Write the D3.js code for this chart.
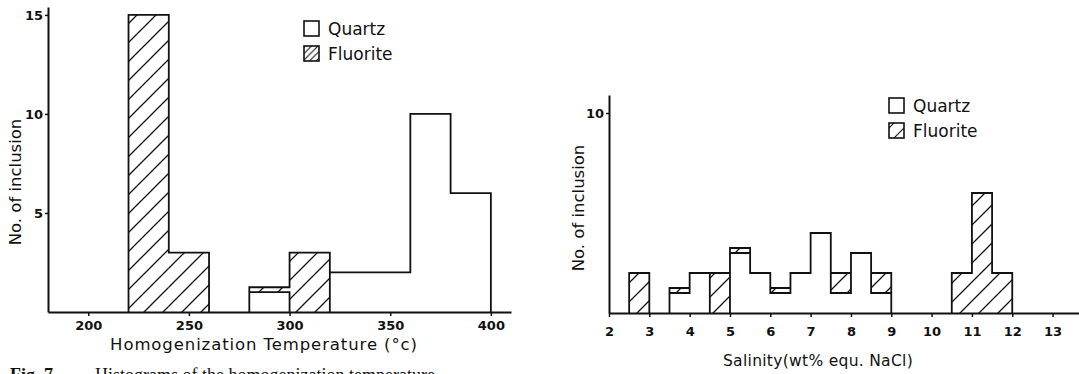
<!DOCTYPE html>
<html>
<head>
<meta charset="utf-8">
<script src="https://cdn.jsdelivr.net/npm/d3@7"></script>
<style>
  body { margin: 0; background: #fff; }
  svg { display: block; }
  .tick text { font-family: "DejaVu Sans", sans-serif; font-weight: bold; font-size: 13px; fill: #111; }
  .label { font-family: "DejaVu Sans", sans-serif; fill: #111; }
</style>
</head>
<body>
<svg id="fig" width="1079" height="374"></svg>
<script>
// homogenization temperature histogram, bins of 20 degC starting at these values
const tempBinStart = [180, 200, 220, 240, 260, 280, 300, 320, 340, 360, 380];
const tempBinWidth = 20;
const tempQuartz   = [0, 0, 0, 0, 0, 1, 0, 2, 2, 10, 6];
const tempFluorite = [0, 0, 15, 3, 0, 0.25, 3, 0, 0, 0, 0];
const tempTicks = [200, 250, 300, 350, 400];
const tempCountTicks = [5, 10, 15];

// salinity histogram, bins of 0.5 wt%
const salBinStart = [2, 2.5, 3, 3.5, 4, 4.5, 5, 5.5, 6, 6.5, 7, 7.5, 8, 8.5, 9, 9.5, 10, 10.5, 11, 11.5];
const salBinWidth = 0.5;
const salQuartz   = [0, 0, 0, 1, 2, 0, 3, 2, 1, 2, 4, 1, 3, 1, 0, 0, 0, 0, 0, 0];
const salFluorite = [0, 2, 0, 0.25, 0, 2, 0.25, 0, 0.25, 0, 0, 1, 0, 1, 0, 0, 0, 2, 6, 2];
const salTicks = [2, 3, 4, 5, 6, 7, 8, 9, 10, 11, 12, 13];
const salCountTicks = [10];

const legendItems = ["Quartz", "Fluorite"];

const svg = d3.select("#fig");
const defs = svg.append("defs");

function hatch(id, s, w) {
  defs.append("pattern")
      .attr("id", id)
      .attr("patternUnits", "userSpaceOnUse")
      .attr("width", s).attr("height", s)
    .append("path")
      .attr("d", `M${-s / 4},${s / 4} L${s / 4},${-s / 4} M0,${s} L${s},0 M${s * 3 / 4},${s * 5 / 4} L${s * 5 / 4},${s * 3 / 4}`)
      .attr("stroke", "#111")
      .attr("stroke-width", w);
}
hatch("hatch", 19, 1.3);
hatch("hatchLegL", 6.5, 1.1);
hatch("hatchLegR", 15, 1.1);

// outline of the stacked histogram: lines only where the filling changes
function outlineSegments(starts, width, q, f) {
  const n = starts.length;
  const layers = i => {
    if (i < 0 || i >= n) return [];
    const out = [];
    if (q[i] > 0) out.push({ t: "q", a: 0, b: q[i] });
    if (f[i] > 0) out.push({ t: "f", a: q[i], b: q[i] + f[i] });
    return out;
  };
  const typeAt = (i, h) => {
    const l = layers(i).find(d => d.a < h && h < d.b);
    return l ? l.t : "none";
  };
  const segs = [];
  for (let k = 0; k <= n; k++) {
    const xv = starts[0] + k * width;
    const hs = Array.from(new Set([0].concat(
      layers(k - 1).flatMap(d => [d.a, d.b]),
      layers(k).flatMap(d => [d.a, d.b])))).sort((a, b) => a - b);
    let cur = null;
    for (let j = 0; j < hs.length - 1; j++) {
      const mid = (hs[j] + hs[j + 1]) / 2;
      if (typeAt(k - 1, mid) !== typeAt(k, mid)) {
        if (cur && cur.y1 === hs[j]) cur.y1 = hs[j + 1];
        else { cur = { x0: xv, x1: xv, y0: hs[j], y1: hs[j + 1] }; segs.push(cur); }
      }
    }
  }
  starts.forEach((s, i) => {
    if (q[i] > 0 && f[i] > 0) segs.push({ x0: s, x1: s + width, y0: q[i], y1: q[i] });
    if (q[i] + f[i] > 0) segs.push({ x0: s, x1: s + width, y0: q[i] + f[i], y1: q[i] + f[i] });
  });
  return segs;
}

function drawHistogram(cfg) {
  const g = svg.append("g");
  const x = cfg.x, y = cfg.y;

  g.selectAll("rect.fl")
    .data(cfg.starts.map((s, i) => ({ s, q: cfg.q[i], f: cfg.f[i] })).filter(d => d.f > 0))
    .join("rect")
      .attr("class", "fl")
      .attr("x", d => x(d.s))
      .attr("width", d => x(d.s + cfg.width) - x(d.s))
      .attr("y", d => y(d.q + d.f))
      .attr("height", d => y(d.q) - y(d.q + d.f))
      .attr("fill", "url(#hatch)");

  g.append("path")
    .attr("d", outlineSegments(cfg.starts, cfg.width, cfg.q, cfg.f)
      .map(d => `M${x(d.x0)},${y(d.y0)}L${x(d.x1)},${y(d.y1)}`).join(""))
    .attr("fill", "none")
    .attr("stroke", "#111")
    .attr("stroke-width", 1.8)
    .attr("stroke-linecap", "square");

  const xAxis = g.append("g")
    .attr("transform", `translate(0,${y(0)})`)
    .call(d3.axisBottom(x).tickValues(cfg.xTicks).tickSize(4).tickPadding(cfg.xPad).tickSizeOuter(0));
  const yAxis = g.append("g")
    .attr("transform", `translate(${x.range()[0]},0)`)
    .call(d3.axisLeft(y).tickValues(cfg.yTicks).tickSize(3).tickPadding(2).tickSizeOuter(0));
  [xAxis, yAxis].forEach(a => {
    a.select(".domain").attr("stroke", "#111").attr("stroke-width", 2);
    a.selectAll(".tick line").attr("stroke", "#111").attr("stroke-width", 1.5);
  });

  g.append("text")
    .attr("class", "label")
    .attr("x", cfg.xLabelPos[0]).attr("y", cfg.xLabelPos[1])
    .attr("text-anchor", "middle")
    .style("font-size", cfg.xLabelSize + "px")
    .style("letter-spacing", cfg.xLabelSpacing + "px")
    .text(cfg.xLabel);

  g.append("text")
    .attr("class", "label")
    .attr("transform", `translate(${cfg.yLabelPos[0]},${cfg.yLabelPos[1]}) rotate(-90)`)
    .attr("text-anchor", "middle")
    .style("font-size", "16.5px")
    .text("No. of inclusion");

  // legend
  const lg = g.append("g").attr("transform", `translate(${cfg.legend[0]},${cfg.legend[1]})`);
  legendItems.forEach((name, i) => {
    lg.append("rect")
      .attr("x", 0).attr("y", i * 25)
      .attr("width", 15).attr("height", 15)
      .attr("fill", i === 0 ? "#fff" : `url(#${cfg.legendHatch})`)
      .attr("stroke", "#111").attr("stroke-width", 1.6);
    lg.append("text")
      .attr("class", "label")
      .attr("x", 24).attr("y", i * 25 + 14)
      .style("font-size", "17px")
      .text(name);
  });
}

drawHistogram({
  starts: tempBinStart, width: tempBinWidth, q: tempQuartz, f: tempFluorite,
  x: d3.scaleLinear().domain([180, 410]).range([48, 511]),
  y: d3.scaleLinear().domain([0, 15.4]).range([312, 7]),
  xTicks: tempTicks, yTicks: tempCountTicks, xPad: 5,
  xLabel: "Homogenization Temperature (°c)", xLabelPos: [264, 350], xLabelSize: 16.5, xLabelSpacing: 0.9,
  yLabelPos: [21, 182],
  legend: [304, 21], legendHatch: "hatchLegL"
});

drawHistogram({
  starts: salBinStart, width: salBinWidth, q: salQuartz, f: salFluorite,
  x: d3.scaleLinear().domain([2, 13.68]).range([609, 1080]),
  y: d3.scaleLinear().domain([0, 10.9]).range([313, 95]),
  xTicks: salTicks, yTicks: salCountTicks, xPad: 10,
  xLabel: "Salinity(wt% equ. NaCl)", xLabelPos: [818, 366], xLabelSize: 15.5, xLabelSpacing: 0.3,
  yLabelPos: [584, 208],
  legend: [889, 98], legendHatch: "hatchLegR"
});

// figure caption, cut off by the bottom edge as in the scan
const caption = svg.append("text")
  .attr("y", 381)
  .style("font-family", "'Liberation Serif', serif")
  .style("font-size", "18px")
  .style("fill", "#111");
caption.append("tspan").attr("x", 10).attr("font-weight", "bold").text("Fig. 7");
caption.append("tspan").attr("x", 95).text("Histograms of the homogenization temperature");
</script>
</body>
</html>
